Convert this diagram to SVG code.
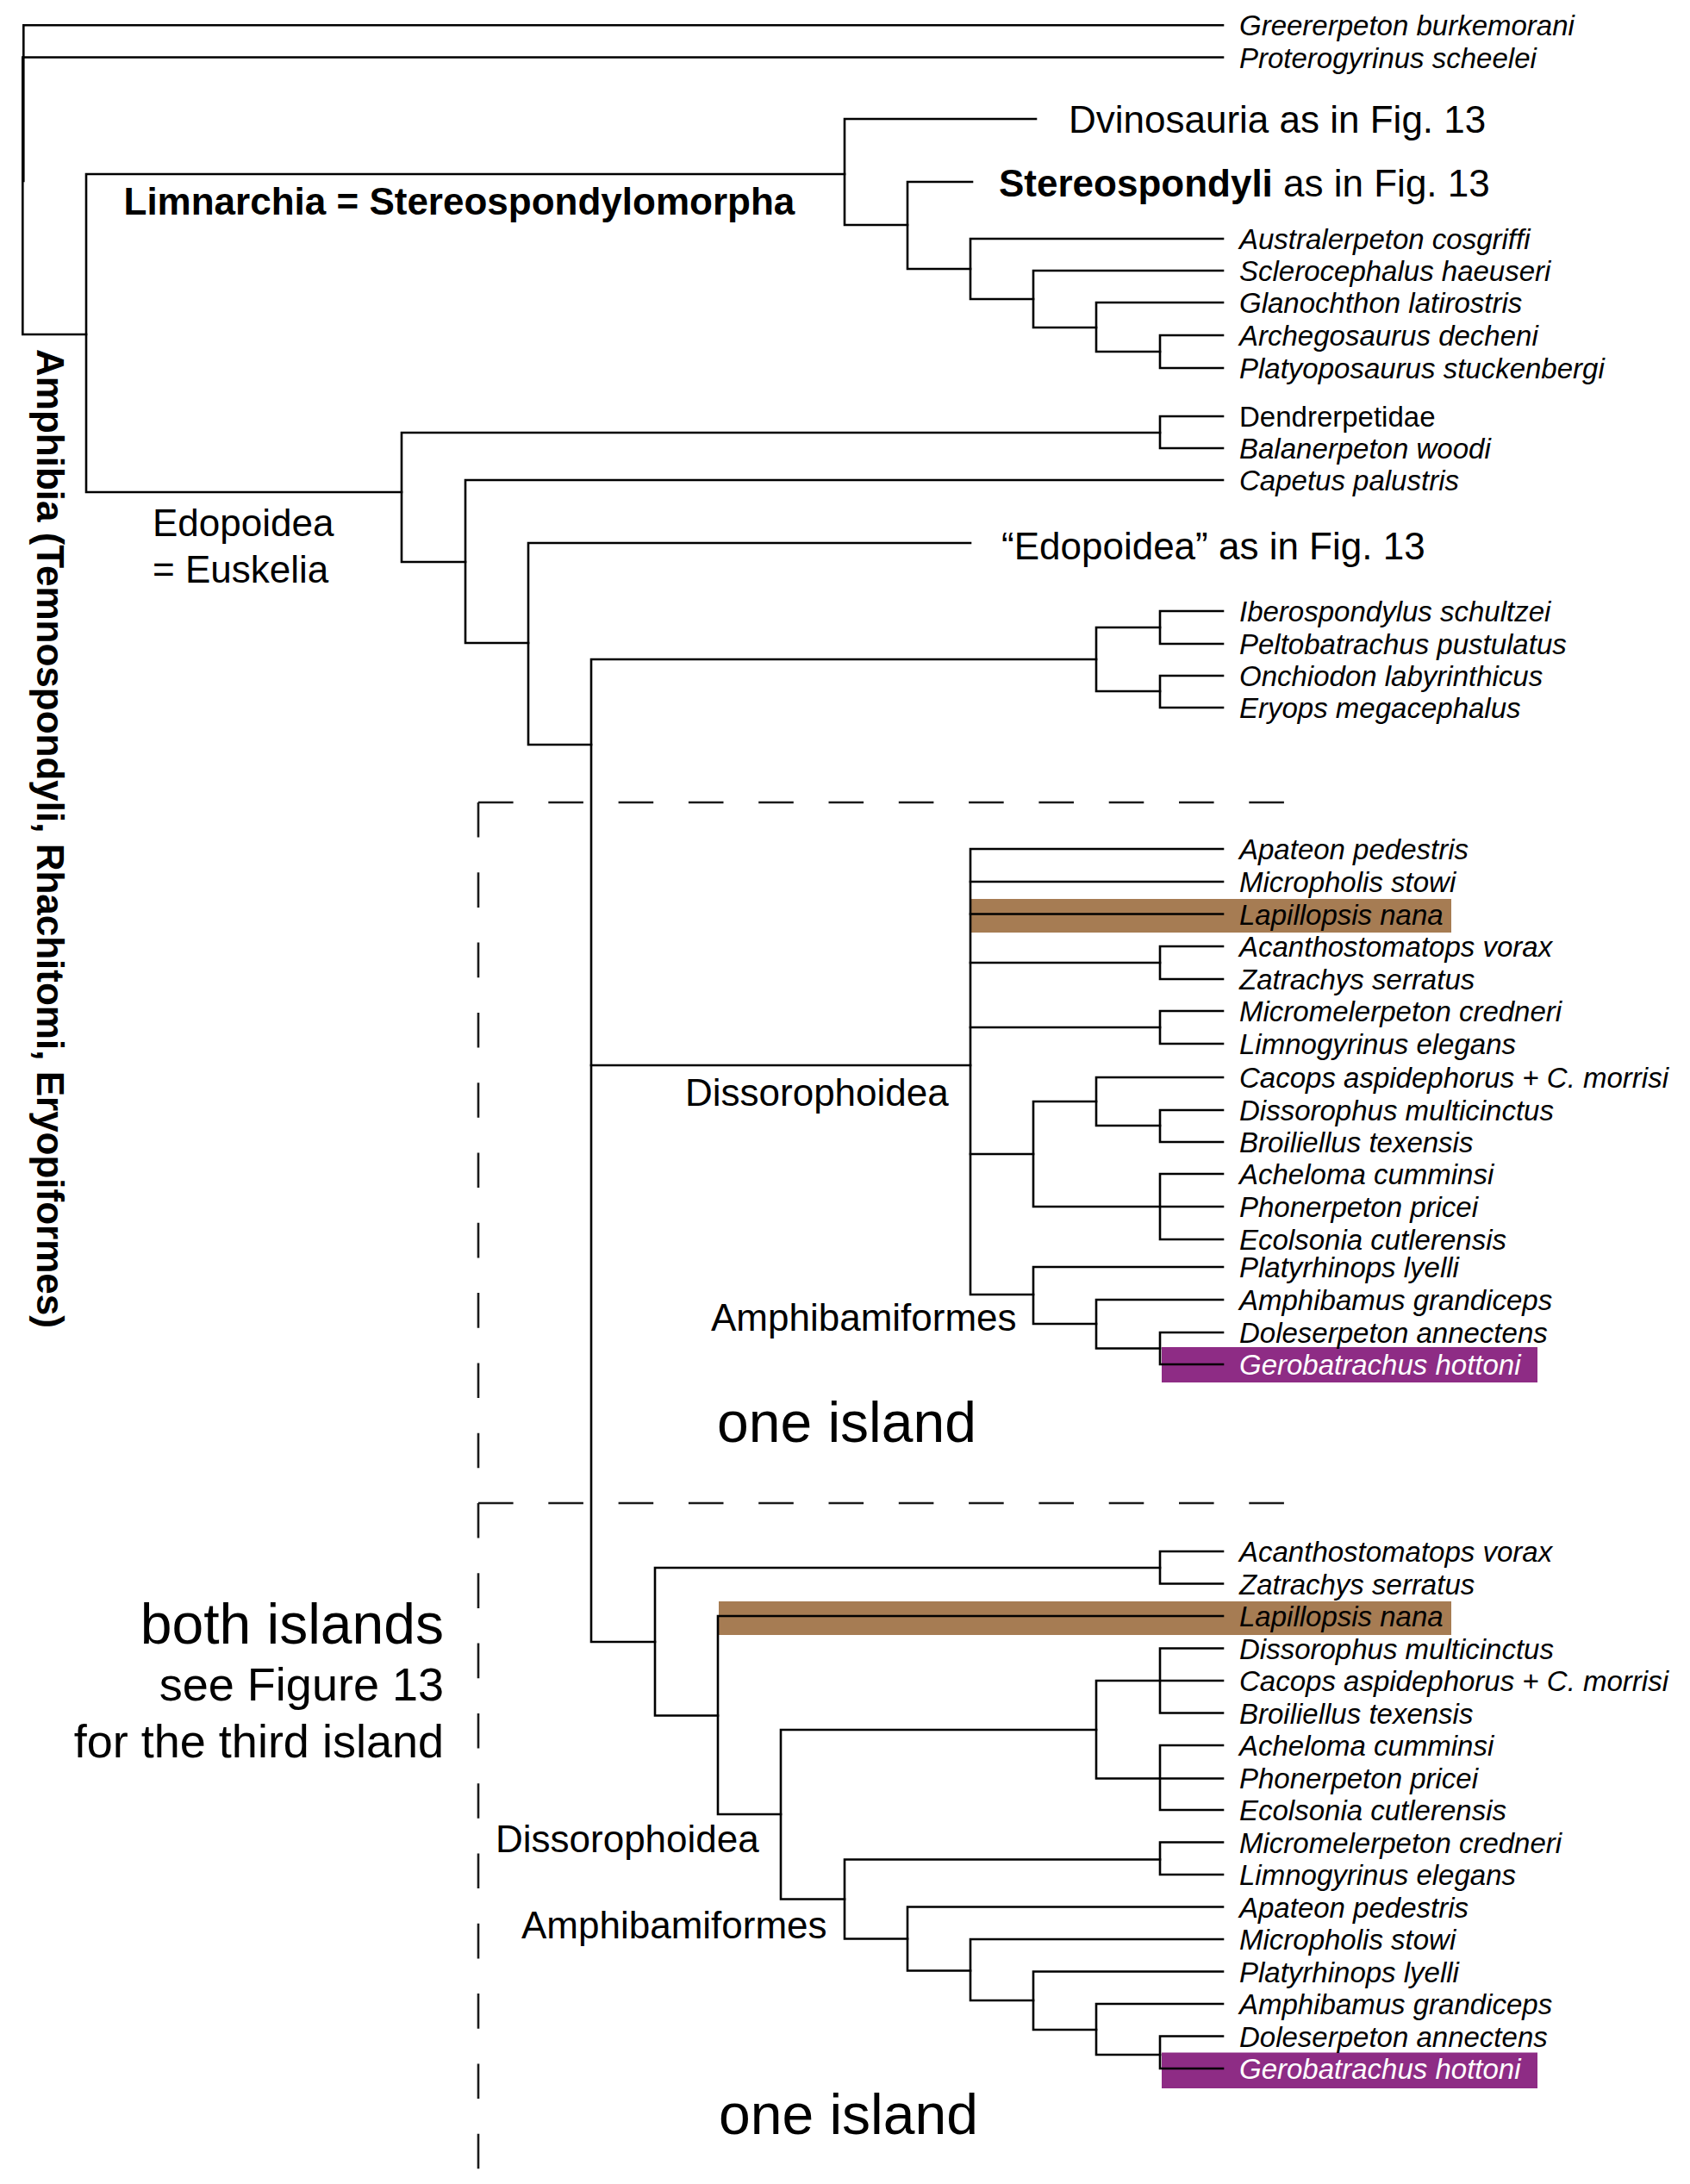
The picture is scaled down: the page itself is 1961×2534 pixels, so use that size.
<svg xmlns="http://www.w3.org/2000/svg" width="1961" height="2534" viewBox="0 0 1961 2534">
<style>
  .br{fill:none;stroke:#000;stroke-width:2.6;stroke-linecap:square;stroke-linejoin:miter}
  .dash{fill:none;stroke:#1a1a1a;stroke-width:2.6;stroke-dasharray:40.6 40.7}
  .leaf{font-family:"Liberation Sans",Arial,sans-serif;font-size:33px;font-style:italic;fill:#000}
  .leafn{font-family:"Liberation Sans",Arial,sans-serif;font-size:33px;fill:#000}
  .white{fill:#fff}
  .lab{font-family:"Liberation Sans",Arial,sans-serif;font-size:44px;fill:#000}
  .bold{font-weight:bold}
  .big{font-family:"Liberation Sans",Arial,sans-serif;font-size:66px;fill:#000}
  .mid{font-family:"Liberation Sans",Arial,sans-serif;font-size:54px;fill:#000}
  .brown{fill:#A67C53}
  .purple{fill:#8E2C85}
</style>
<rect width="1961" height="2534" fill="#fff"/>
<g id="highlights">
  <rect class="brown" x="1126" y="1043" width="558" height="39"/>
  <rect class="purple" x="1348" y="1563" width="436" height="41"/>
  <rect class="brown" x="834" y="1858" width="850" height="39"/>
  <rect class="purple" x="1348" y="2381.5" width="436" height="41.5"/>
</g>
<g id="islands">
  <path class="dash" d="M555,931 H1490"/>
  <path class="dash" d="M555,931 V2534"/>
  <path class="dash" d="M555,1744 H1490"/>
</g>
<g id="connectors">
  <path class="br" d="M1419,29.3 H27.3 V210"/>
  <path class="br" d="M1419,66.5 H26.3 V388 H100"/>
  <path class="br" d="M980,202 H100 V571 H466"/>
  <path class="br" d="M1202,138 H980 V261 H1053"/>
  <path class="br" d="M1128,211 H1053 V312 H1126"/>
  <path class="br" d="M1419,277 H1126 V347 H1199"/>
  <path class="br" d="M1419,314 H1199 V380 H1272"/>
  <path class="br" d="M1419,351 H1272 V408 H1346"/>
  <path class="br" d="M1419,389 H1346 V427 H1419"/>
  <path class="br" d="M1346,502 H466 V652 H540"/>
  <path class="br" d="M1419,483 H1346 V520 H1419"/>
  <path class="br" d="M1419,557 H540 V746 H613"/>
  <path class="br" d="M1126,630 H613 V864 H686"/>
  <path class="br" d="M1272,765 H686 V1905 H760"/>
  <path class="br" d="M1346,728 H1272 V802 H1346"/>
  <path class="br" d="M1419,709 H1346 V747 H1419"/>
  <path class="br" d="M1419,784 H1346 V821 H1419"/>
  <path class="br" d="M686,1236 H1126"/>
  <path class="br" d="M1419,985 H1126 V1502 H1199"/>
  <path class="br" d="M1126,1023 H1419"/>
  <path class="br" d="M1126,1060.5 H1419"/>
  <path class="br" d="M1126,1117 H1346"/>
  <path class="br" d="M1419,1098 H1346 V1136 H1419"/>
  <path class="br" d="M1126,1192 H1346"/>
  <path class="br" d="M1419,1173 H1346 V1211 H1419"/>
  <path class="br" d="M1126,1339 H1199"/>
  <path class="br" d="M1272,1278 H1199 V1400 H1419"/>
  <path class="br" d="M1419,1250 H1272 V1306 H1346"/>
  <path class="br" d="M1419,1288 H1346 V1325 H1419"/>
  <path class="br" d="M1419,1362 H1346 V1438 H1419"/>
  <path class="br" d="M1419,1470 H1199 V1536 H1272"/>
  <path class="br" d="M1419,1508 H1272 V1564.5 H1346"/>
  <path class="br" d="M1419,1546 H1346 V1583 H1419"/>
  <path class="br" d="M1346,1819 H760 V1990.5 H833"/>
  <path class="br" d="M1419,1800 H1346 V1837.5 H1419"/>
  <path class="br" d="M1419,1875 H833 V2105 H906"/>
  <path class="br" d="M1272,2007 H906 V2203.5 H980"/>
  <path class="br" d="M1419,1950 H1272 V2063.5 H1419"/>
  <path class="br" d="M1419,1912.5 H1346 V1987.5 H1419"/>
  <path class="br" d="M1419,2025 H1346 V2100 H1419"/>
  <path class="br" d="M1346,2157.5 H980 V2249.5 H1053"/>
  <path class="br" d="M1419,2137.5 H1346 V2175 H1419"/>
  <path class="br" d="M1419,2212.5 H1053 V2286.5 H1126"/>
  <path class="br" d="M1419,2250 H1126 V2321 H1199"/>
  <path class="br" d="M1419,2287.5 H1199 V2355 H1272"/>
  <path class="br" d="M1419,2325 H1272 V2384 H1346"/>
  <path class="br" d="M1419,2362.5 H1346 V2400 H1419"/>
</g>
<g id="clade-labels">
  <g id="amphibia"><text class="lab bold" transform="translate(43,405) rotate(90)">Amphibia (Temnospondyli, Rhachitomi, Eryopiformes)</text></g>
  <g id="limnarchia"><text class="lab bold" x="143.5" y="249">Limnarchia = Stereospondylomorpha</text></g>
  <g id="dvinosauria"><text class="lab" x="1240" y="154">Dvinosauria as in Fig. 13</text></g>
  <g id="stereospondyli"><text class="lab" x="1159" y="228"><tspan class="bold">Stereospondyli</tspan> as in Fig. 13</text></g>
  <g id="edopoidea"><text class="lab" x="177" y="622">Edopoidea</text><text class="lab" x="177" y="676">= Euskelia</text></g>
  <g id="edopoidea-fig13"><text class="lab" x="1162" y="649">“Edopoidea” as in Fig. 13</text></g>
  <g id="dissorophoidea-1"><text class="lab" x="795" y="1283">Dissorophoidea</text></g>
  <g id="amphibamiformes-1"><text class="lab" x="825" y="1544">Amphibamiformes</text></g>
  <g id="one-island-1"><text class="big" x="832" y="1673">one island</text></g>
  <g id="dissorophoidea-2"><text class="lab" x="575" y="2149">Dissorophoidea</text></g>
  <g id="amphibamiformes-2"><text class="lab" x="605" y="2248.5">Amphibamiformes</text></g>
  <g id="one-island-2"><text class="big" x="834" y="2476">one island</text></g>
  <g id="both-islands">
    <text class="big" x="515" y="1907" text-anchor="end">both islands</text>
    <text class="mid" x="515" y="1973" text-anchor="end">see Figure 13</text>
    <text class="mid" x="515" y="2039" text-anchor="end">for the third island</text>
  </g>
</g>
<g id="taxa">
  <g id="t-greererpeton"><text class="leaf" x="1438" y="41.3">Greererpeton burkemorani</text></g>
  <g id="t-proterogyrinus"><text class="leaf" x="1438" y="78.5">Proterogyrinus scheelei</text></g>
  <g id="t-australerpeton"><text class="leaf" x="1438" y="289">Australerpeton cosgriffi</text></g>
  <g id="t-sclerocephalus"><text class="leaf" x="1438" y="326">Sclerocephalus haeuseri</text></g>
  <g id="t-glanochthon"><text class="leaf" x="1438" y="363">Glanochthon latirostris</text></g>
  <g id="t-archegosaurus"><text class="leaf" x="1438" y="401">Archegosaurus decheni</text></g>
  <g id="t-platyoposaurus"><text class="leaf" x="1438" y="439">Platyoposaurus stuckenbergi</text></g>
  <g id="t-dendrerpetidae"><text class="leafn" x="1438" y="495">Dendrerpetidae</text></g>
  <g id="t-balanerpeton"><text class="leaf" x="1438" y="532">Balanerpeton woodi</text></g>
  <g id="t-capetus"><text class="leaf" x="1438" y="569">Capetus palustris</text></g>
  <g id="t-iberospondylus"><text class="leaf" x="1438" y="721">Iberospondylus schultzei</text></g>
  <g id="t-peltobatrachus"><text class="leaf" x="1438" y="759">Peltobatrachus pustulatus</text></g>
  <g id="t-onchiodon"><text class="leaf" x="1438" y="796">Onchiodon labyrinthicus</text></g>
  <g id="t-eryops"><text class="leaf" x="1438" y="833">Eryops megacephalus</text></g>

  <g id="t1-apateon"><text class="leaf" x="1438" y="997">Apateon pedestris</text></g>
  <g id="t1-micropholis"><text class="leaf" x="1438" y="1035">Micropholis stowi</text></g>
  <g id="t1-lapillopsis"><text class="leaf" x="1438" y="1072.5">Lapillopsis nana</text></g>
  <g id="t1-acanthostomatops"><text class="leaf" x="1438" y="1110">Acanthostomatops vorax</text></g>
  <g id="t1-zatrachys"><text class="leaf" x="1438" y="1148">Zatrachys serratus</text></g>
  <g id="t1-micromelerpeton"><text class="leaf" x="1438" y="1185">Micromelerpeton credneri</text></g>
  <g id="t1-limnogyrinus"><text class="leaf" x="1438" y="1223">Limnogyrinus elegans</text></g>
  <g id="t1-cacops"><text class="leaf" x="1438" y="1262">Cacops aspidephorus + C. morrisi</text></g>
  <g id="t1-dissorophus"><text class="leaf" x="1438" y="1300">Dissorophus multicinctus</text></g>
  <g id="t1-broiliellus"><text class="leaf" x="1438" y="1337">Broiliellus texensis</text></g>
  <g id="t1-acheloma"><text class="leaf" x="1438" y="1374">Acheloma cumminsi</text></g>
  <g id="t1-phonerpeton"><text class="leaf" x="1438" y="1412">Phonerpeton pricei</text></g>
  <g id="t1-ecolsonia"><text class="leaf" x="1438" y="1450">Ecolsonia cutlerensis</text></g>
  <g id="t1-platyrhinops"><text class="leaf" x="1438" y="1482">Platyrhinops lyelli</text></g>
  <g id="t1-amphibamus"><text class="leaf" x="1438" y="1520">Amphibamus grandiceps</text></g>
  <g id="t1-doleserpeton"><text class="leaf" x="1438" y="1558">Doleserpeton annectens</text></g>
  <g id="t1-gerobatrachus"><text class="leaf white" x="1438" y="1595">Gerobatrachus hottoni</text></g>

  <g id="t2-acanthostomatops"><text class="leaf" x="1438" y="1812">Acanthostomatops vorax</text></g>
  <g id="t2-zatrachys"><text class="leaf" x="1438" y="1849.5">Zatrachys serratus</text></g>
  <g id="t2-lapillopsis"><text class="leaf" x="1438" y="1887">Lapillopsis nana</text></g>
  <g id="t2-dissorophus"><text class="leaf" x="1438" y="1924.5">Dissorophus multicinctus</text></g>
  <g id="t2-cacops"><text class="leaf" x="1438" y="1962">Cacops aspidephorus + C. morrisi</text></g>
  <g id="t2-broiliellus"><text class="leaf" x="1438" y="1999.5">Broiliellus texensis</text></g>
  <g id="t2-acheloma"><text class="leaf" x="1438" y="2037">Acheloma cumminsi</text></g>
  <g id="t2-phonerpeton"><text class="leaf" x="1438" y="2074.5">Phonerpeton pricei</text></g>
  <g id="t2-ecolsonia"><text class="leaf" x="1438" y="2112">Ecolsonia cutlerensis</text></g>
  <g id="t2-micromelerpeton"><text class="leaf" x="1438" y="2149.5">Micromelerpeton credneri</text></g>
  <g id="t2-limnogyrinus"><text class="leaf" x="1438" y="2187">Limnogyrinus elegans</text></g>
  <g id="t2-apateon"><text class="leaf" x="1438" y="2224.5">Apateon pedestris</text></g>
  <g id="t2-micropholis"><text class="leaf" x="1438" y="2262">Micropholis stowi</text></g>
  <g id="t2-platyrhinops"><text class="leaf" x="1438" y="2299.5">Platyrhinops lyelli</text></g>
  <g id="t2-amphibamus"><text class="leaf" x="1438" y="2337">Amphibamus grandiceps</text></g>
  <g id="t2-doleserpeton"><text class="leaf" x="1438" y="2374.5">Doleserpeton annectens</text></g>
  <g id="t2-gerobatrachus"><text class="leaf white" x="1438" y="2412">Gerobatrachus hottoni</text></g>
</g>
</svg>
